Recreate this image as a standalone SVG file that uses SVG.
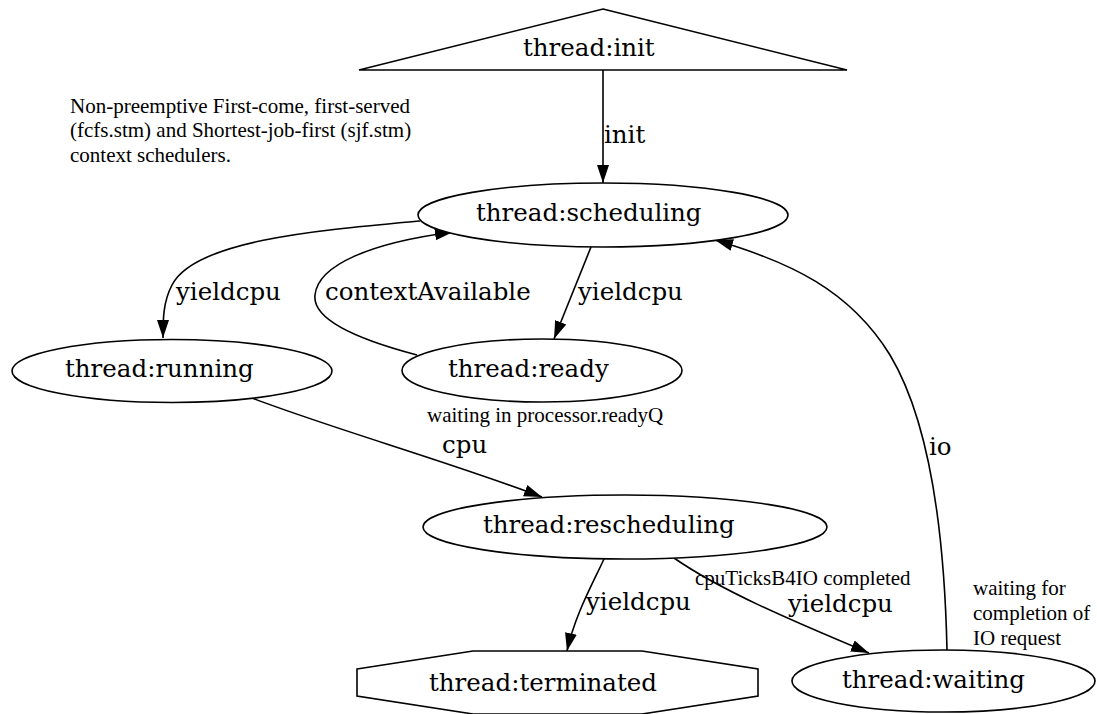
<svg xmlns="http://www.w3.org/2000/svg" width="1097" height="714" viewBox="0 0 1097 714">
<style>
.shape{fill:#ffffff;stroke:#000000;stroke-width:1.6}
.edge{fill:none;stroke:#000000;stroke-width:1.6;marker-end:url(#arr)}
.lbl{font-family:"DejaVu Serif",serif;font-size:24.5px;fill:#000000}
.note{font-family:"Liberation Serif",serif;font-size:21px;fill:#000000}
</style>
<defs>
<marker id="arr" markerUnits="userSpaceOnUse" markerWidth="18" markerHeight="14" viewBox="0 0 18 14" refX="18" refY="7" orient="auto">
<path d="M0,1 L18,7 L0,13 z" fill="#000000"/>
</marker>
</defs>
<rect width="1097" height="714" fill="#ffffff"/>

<text class="note" x="70" y="113">Non-preemptive First-come, first-served</text>
<text class="note" x="70" y="137">(fcfs.stm) and Shortest-job-first (sjf.stm)</text>
<text class="note" x="70" y="162">context schedulers.</text>

<g id="connectors">
<path class="edge" d="M603,70 L603,183"/>
<text class="lbl" x="604" y="143">init</text>
<path class="edge" d="M420,221 C320,230 195,240 172,285 C163,302 163,320 163,338"/>
<text class="lbl" x="176" y="300">yieldcpu</text>
<path class="edge" d="M417,355 C360,340 312,320 315,295 C318,265 370,243 453,232"/>
<text class="lbl" x="325" y="300">contextAvailable</text>
<path class="edge" d="M591,247 L554,339"/>
<text class="lbl" x="578" y="300">yieldcpu</text>
<path class="edge" d="M252,398 C330,428 450,462 542,497"/>
<text class="lbl" x="442" y="453">cpu</text>
<path class="edge" d="M604,559 C592,585 575,615 567,651"/>
<text class="lbl" x="586" y="610">yieldcpu</text>
<path class="edge" d="M674,558 C720,590 790,620 869,653"/>
<text class="note" x="695" y="585">cpuTicksB4IO completed</text>
<text class="lbl" x="788" y="612">yieldcpu</text>
<path class="edge" d="M947,650 C945,560 935,430 890,355 C850,290 790,262 715,240"/>
<text class="lbl" x="929" y="455">io</text>
</g>

<g id="init">
<polygon class="shape" points="603,9 847,70 359,70"/>
<text class="lbl" x="523" y="56">thread:init</text>
</g>
<g id="scheduling">
<ellipse class="shape" cx="603" cy="215" rx="185" ry="32"/>
<text class="lbl" x="476" y="221">thread:scheduling</text>
</g>
<g id="running">
<ellipse class="shape" cx="172" cy="371" rx="160" ry="31.5"/>
<text class="lbl" x="65" y="377">thread:running</text>
</g>
<g id="ready">
<ellipse class="shape" cx="542" cy="370.5" rx="140" ry="31.5"/>
<text class="lbl" x="448" y="377">thread:ready</text>
<text class="note" x="427" y="422">waiting in processor.readyQ</text>
</g>
<g id="rescheduling">
<ellipse class="shape" cx="625" cy="527" rx="202" ry="32"/>
<text class="lbl" x="483" y="533">thread:rescheduling</text>
</g>
<g id="terminated">
<polygon class="shape" points="357,669 473,651 642,651 758,669 758,696 642,714 473,714 357,696"/>
<text class="lbl" x="429" y="691">thread:terminated</text>
</g>
<g id="waiting">
<ellipse class="shape" cx="943.5" cy="681" rx="151.5" ry="31"/>
<text class="lbl" x="842" y="688">thread:waiting</text>
<text class="note" x="973" y="595">waiting for</text>
<text class="note" x="973" y="620">completion of</text>
<text class="note" x="973" y="645">IO request</text>
</g>
</svg>
